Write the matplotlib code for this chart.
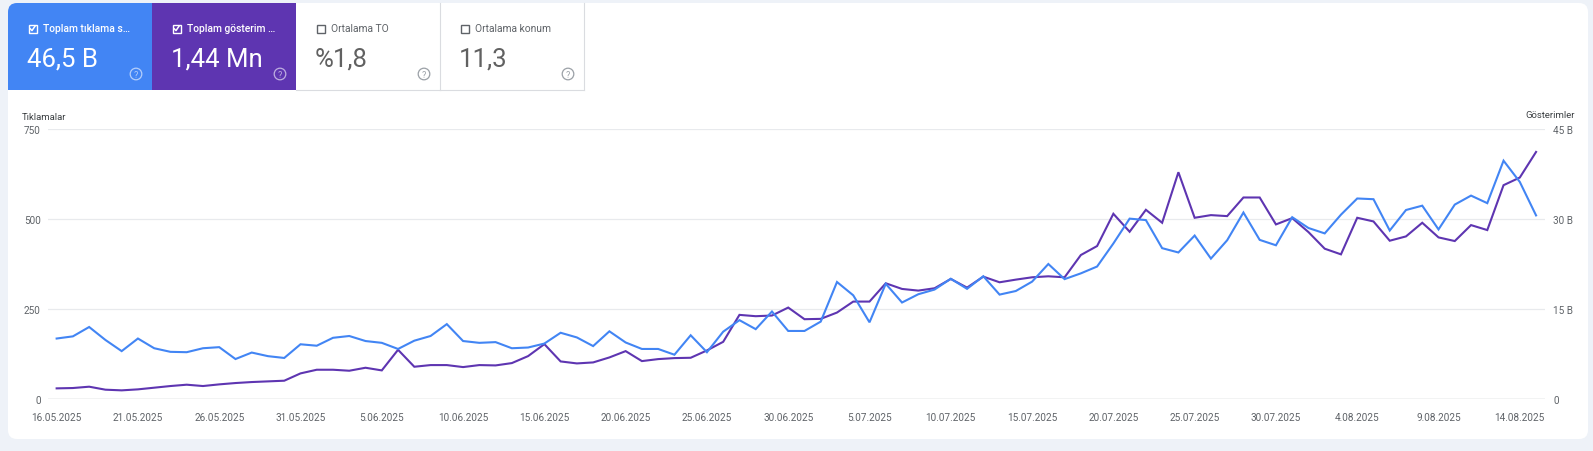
"""
    Search Console style chart: clicks vs impressions
"""
import matplotlib
matplotlib.use('Agg')
import matplotlib.pyplot as plt
from matplotlib.patches import FancyBboxPatch, Rectangle, Circle

plt.rcParams['font.family'] = ['Roboto', 'DejaVu Sans']

# daily values, 16.05.2025 .. 15.08.2025
clicks = [168, 174, 200, 164, 133, 168, 141, 131, 130, 141, 144, 111, 129, 119, 114, 152,
          148, 170, 175, 161, 156, 139, 162, 175, 208, 161, 156, 158, 141, 143, 154, 184,
          171, 147, 188, 157, 139, 139, 123, 177, 130, 187, 219, 194, 243, 189, 189, 215,
          325, 288, 213, 320, 268, 291, 304, 334, 306, 341, 290, 300, 326, 375, 333, 349,
          368, 432, 501, 497, 419, 407, 454, 390, 441, 518, 442, 427, 505, 475, 460, 512,
          557, 555, 468, 525, 537, 471, 540, 565, 544, 662, 603, 510]

impressions = [1773, 1829, 2051, 1552, 1441, 1607, 1884, 2161, 2383, 2161, 2438, 2660, 2826,
               2937, 3048, 4267, 4877, 4877, 4711, 5209, 4766, 8202, 5376, 5653, 5653, 5320,
               5653, 5597, 5985, 7149, 9144, 6262, 5930, 6096, 6927, 7980, 6318, 6650, 6817,
               6872, 8091, 9532, 14021, 13800, 13910, 15240, 13300, 13356, 14409, 16238, 16238,
               19286, 18344, 18067, 18455, 20007, 18566, 20394, 19452, 19895, 20284, 20450,
               20284, 23997, 25493, 30869, 27876, 31534, 29372, 37796, 30204, 30647, 30481,
               33585, 33585, 29096, 30148, 27821, 25050, 24108, 30204, 29594, 26380, 27100,
               29372, 26934, 26325, 28985, 28153, 35635, 36910, 41177]

date_labels = ['16.05.2025', '21.05.2025', '26.05.2025', '31.05.2025', '5.06.2025',
               '10.06.2025', '15.06.2025', '20.06.2025', '25.06.2025', '30.06.2025',
               '5.07.2025', '10.07.2025', '15.07.2025', '20.07.2025', '25.07.2025',
               '30.07.2025', '4.08.2025', '9.08.2025', '14.08.2025']

left_ticks = [0, 250, 500, 750]
right_ticks = [0, 15000, 30000, 45000]
right_labels = ['0', '15 B', '30 B', '45 B']

tiles = [('Toplam tıklama s…', '46,5 B', True, '#4285f4'),
         ('Toplam gösterim …', '1,44 Mn', True, '#5e35b1'),
         ('Ortalama TO', '%1,8', False, '#ffffff'),
         ('Ortalama konum', '11,3', False, '#ffffff')]

BLUE = '#4285f4'
PURPLE = '#5e35b1'
GRAY = '#5f6368'
W, H = 1593, 452

fig = plt.figure(figsize=(W / 100, H / 100), dpi=100)
fig.patch.set_facecolor('#eef2f8')

# canvas in pixel coordinates for the card and the tiles
cv = fig.add_axes([0, 0, 1, 1])
cv.set_xlim(0, W)
cv.set_ylim(H, 0)
cv.axis('off')

card = FancyBboxPatch((8, 4), 1580, 436, boxstyle='round,pad=0,rounding_size=9',
                      facecolor='white', edgecolor='none')
cv.add_patch(card)

tile_w = 144
for i, (title, value, checked, color) in enumerate(tiles):
    x0 = 8 + i * tile_w
    bg = Rectangle((x0, 4), tile_w, 87, facecolor=color, edgecolor='none')
    cv.add_patch(bg)
    bg.set_clip_path(card)
    txt = 'white' if checked else GRAY
    # checkbox
    cv.add_patch(Rectangle((x0 + 20.5, 25.5), 8, 8, facecolor='none',
                           edgecolor=txt, lw=1.0))
    if checked:
        cv.plot([x0 + 22.3, x0 + 24.0, x0 + 27.0], [29.8, 31.6, 27.2], color='white', lw=1.1)
    cv.text(x0 + 35, 32.3, title, color=txt, fontsize=7.4,
            fontweight='medium' if checked else 'normal', va='baseline', ha='left')
    cv.text(x0 + 19, 66, value, color=txt if checked else '#616161', fontsize=18.5,
            va='baseline', ha='left')
    # help icon
    hc = (1, 1, 1, 0.6) if checked else '#9aa0a6'
    cv.add_patch(Circle((x0 + 128, 75), 5.8, facecolor='none', edgecolor=hc, lw=0.9))
    cv.text(x0 + 128, 75.5, '?', color=hc, fontsize=6.5, ha='center', va='center')
    if not checked:
        cv.plot([x0 + tile_w, x0 + tile_w], [4, 91], color='#dadce0', lw=0.8)
        cv.plot([x0, x0 + tile_w], [91, 91], color='#dadce0', lw=0.8)

cv.text(21.7, 117, 'Tıklamalar', color='#3c4043', fontsize=6.8, ha='left', va='center')
cv.text(1575, 116, 'Gösterimler', color='#3c4043', fontsize=6.8, ha='right', va='center')

# chart axes
left, right = 47.7 / W, 1545 / W
bottom, top = (H - 400) / H, (H - 130) / H
ax = fig.add_axes([left, bottom, right - left, top - bottom])
ax2 = ax.twinx()
ax.set_zorder(ax2.get_zorder() + 1)
ax.patch.set_visible(False)

days = list(range(len(clicks)))
ax2.plot(days, impressions, color=PURPLE, lw=1.5, solid_joinstyle='miter', clip_on=False)
ax.plot(days, clicks, color=BLUE, lw=1.5, solid_joinstyle='miter', clip_on=False)

ax.set_xlim(-0.55, len(clicks) - 1 + 0.55)
ax.set_ylim(0, 750)
ax2.set_ylim(0, 45000)

for a in (ax, ax2):
    for s in a.spines.values():
        s.set_visible(False)

ax.set_yticks(left_ticks)
ax.set_yticklabels([str(t) for t in left_ticks])
ax2.set_yticks(right_ticks)
ax2.set_yticklabels(right_labels)
ax.set_xticks(days[::5])
ax.set_xticklabels(date_labels)

ax.tick_params(axis='y', length=0, pad=5, labelsize=7.2, labelcolor=GRAY)
ax2.tick_params(axis='y', length=0, pad=6, labelsize=7.2, labelcolor=GRAY)
ax.tick_params(axis='x', length=0, pad=9.2, labelsize=7.2, labelcolor=GRAY)

for t in left_ticks[1:]:
    ax2.axhline(t * 60, color='#e8eaed', lw=0.9, zorder=0)
ax2.axhline(0, color='#9aa0a6', lw=0.9, zorder=0)

fig.savefig('out.png', dpi=100, facecolor=fig.get_facecolor())
